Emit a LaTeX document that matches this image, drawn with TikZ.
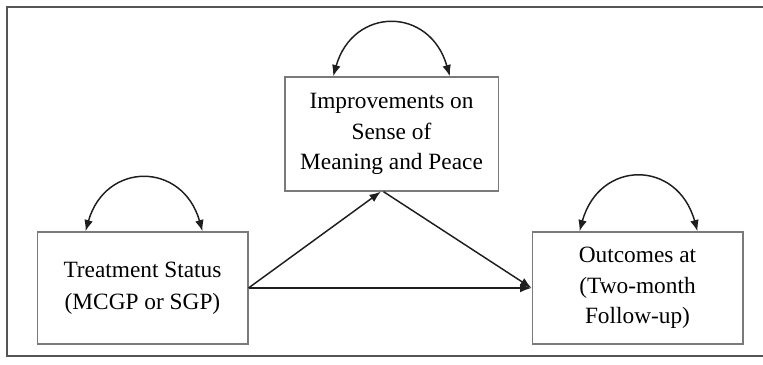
\documentclass[tikz,border=0pt]{standalone}
\usepackage{fontspec}
\setmainfont{Liberation Serif}
\usetikzlibrary{arrows.meta, positioning, calc}
\definecolor{frameline}{HTML}{555555}
\definecolor{boxline}{HTML}{7A7A7A}
\definecolor{arrowline}{HTML}{1E1E1E}

\begin{document}
\begin{tikzpicture}[
      x=0.75pt, y=0.75pt,
      box/.style={rectangle, draw=boxline, line width=1pt, fill=white,
                  minimum width=158pt, minimum height=84pt, inner sep=0pt,
                  align=center, font=\fontsize{17.5}{24}\selectfont},
      arr/.style={-{Latex[length=8.5pt,width=6.5pt]}, line width=1.1pt, arrowline},
      cov/.style={{Latex[length=8.5pt,width=6.5pt]}-{Latex[length=8.5pt,width=6.5pt]},
                  line width=1.1pt, arrowline}
    ]
      \useasboundingbox (0,0) rectangle (763,364);
      % outer frame (right side falls off the picture)
      \draw[frameline, line width=1.5pt] (766,8) -- (7,8) -- (7,357) -- (766,357);

      \node[box] (treat) at (142.5,76) {Treatment Status\\(MCGP or SGP)};
      \node[box, minimum width=160pt, minimum height=85.5pt,
            font=\fontsize{17.5}{23}\selectfont] (mean) at (391.5,230)
            {Improvements on\\Sense of\\Meaning and Peace};
      \node[box, font=\fontsize{17.5}{23}\selectfont] (outc) at (637.5,76)
            {Outcomes at\\(Two-month\\Follow-up)};

      % paths
      \draw[arr] (treat.east) -- ([xshift=-8pt]mean.south);
      \draw[arr] ([xshift=-6pt]mean.south) -- (outc.west);
      \draw[arr] (treat.east) -- (outc.west);

      % curved double arrows above each box
      \draw[cov] ($(treat.north west)+(49,0)$) .. controls +(20,70) and +(-20,70) .. ($(treat.north east)+(-46,0)$);
      \draw[cov] ($(mean.north west)+(49,0)$) .. controls +(20,70) and +(-20,70) .. ($(mean.north east)+(-49,0)$);
      \draw[cov] ($(outc.north west)+(48,0)$) .. controls +(20,72) and +(-20,72) .. ($(outc.north east)+(-46,0)$);
    \end{tikzpicture}
\end{document}
